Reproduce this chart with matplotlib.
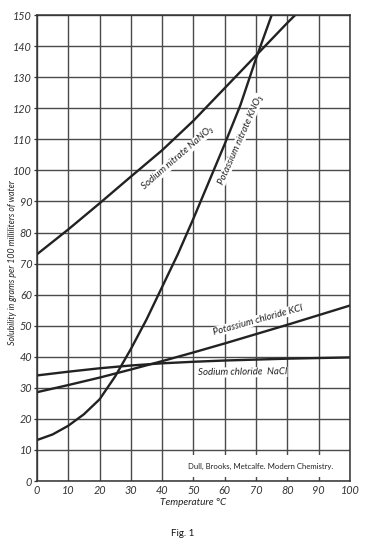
import matplotlib
matplotlib.use("Agg")
import matplotlib.pyplot as plt
from matplotlib.patches import Rectangle

# ---- data ----
temp_ticks = [0, 10, 20, 30, 40, 50, 60, 70, 80, 90, 100]
sol_ticks = list(range(0, 151, 10))

nano3_t = [0, 10, 20, 30, 40, 50, 60, 70, 80, 82.5]
nano3_s = [73, 81, 89.4, 98, 106.5, 116, 126.5, 137, 147.5, 150]

kno3_t = [0, 5, 10, 15, 20, 25, 30, 35, 40, 45, 50, 55, 60, 65, 70, 75]
kno3_s = [13.2, 15.0, 17.8, 21.5, 26.3, 33.7, 42.5, 52, 62.5, 73, 84.5, 96.5, 108.5, 121, 136, 150]

kcl_t = [0, 10, 20, 30, 40, 50, 60, 70, 80, 90, 100]
kcl_s = [28.6, 30.9, 33.3, 35.9, 38.6, 41.4, 44.3, 47.3, 50.3, 53.4, 56.5]

nacl_t = [0, 10, 20, 30, 40, 50, 60, 70, 80, 90, 100]
nacl_s = [34.0, 35.2, 36.3, 37.2, 37.9, 38.4, 38.8, 39.1, 39.4, 39.6, 39.8]

ital = ['Lato', 'DejaVu Sans']

fig = plt.figure(figsize=(3.66, 5.6), dpi=100)
ax = fig.add_axes([0.101, 0.141, 0.855, 0.832])

ax.set_xlim(0, 100)
ax.set_ylim(0, 150)
ax.set_xticks(temp_ticks)
ax.set_yticks(sol_ticks)
ax.set_xticklabels([str(t) for t in temp_ticks], fontsize=7.8, style='italic', family=ital)
ax.set_yticklabels([str(s) for s in sol_ticks], fontsize=7.8, style='italic', family=ital)
ax.tick_params(axis='y', length=2.5, width=0.9, pad=1, colors='#333333')
ax.tick_params(axis='x', length=0, pad=3, colors='#333333')

ax.set_axisbelow(True)
ax.grid(True, color='#4a4a4a', linewidth=1.0)
for sp in ax.spines.values():
    sp.set_color('#333333')
    sp.set_linewidth(1.1)

# white box for the credit text
ax.add_patch(Rectangle((44, 1.3), 55, 7.2, facecolor='white', edgecolor='none', zorder=1))
ax.text(71.5, 4.8, "Dull, Brooks, Metcalfe. Modern Chemistry.", fontsize=5.6,
        family=['Lato', 'DejaVu Sans'], ha='center', va='center', color='#222222', zorder=3)

lc = '#222222'
lw = 1.7
ax.plot(nano3_t, nano3_s, color=lc, lw=lw, zorder=2)
ax.plot(kno3_t, kno3_s, color=lc, lw=lw, zorder=2)
ax.plot(kcl_t, kcl_s, color=lc, lw=lw, zorder=2)
ax.plot(nacl_t, nacl_s, color=lc, lw=lw, zorder=2)

box = dict(facecolor='white', edgecolor='none', pad=0.4)
lab_kw = dict(fontsize=7, style='italic', family=ital, color='#222222',
              ha='center', va='center', rotation_mode='anchor', zorder=1.5, bbox=box)
ax.text(45.0, 104.0, "Sodium nitrate NaNO₃", rotation=41, **lab_kw)
ax.text(65.0, 110.0, "Potassium nitrate KNO₃", rotation=66, **lab_kw)
ax.text(70.5, 51.8, "Potassium chloride KCl", rotation=15.5, **lab_kw)
ax.text(65.6, 35.0, "Sodium chloride  NaCl", rotation=0.5, **lab_kw)

ax.set_xlabel("Temperature °C", fontsize=7.2, style='italic', family=ital,
              color='#222222', labelpad=1)
fig.text(0.033, 0.532, "Solubility in grams per 100 milliliters of water", rotation=90,
         fontsize=6.3, style='italic', family=ital, color='#222222',
         ha='center', va='center')

fig.text(0.5, 0.048, "Fig. 1", fontsize=7, family=['Lato', 'DejaVu Sans'],
         ha='center', va='center', color='#111111')

fig.savefig("out.png", dpi=100)
